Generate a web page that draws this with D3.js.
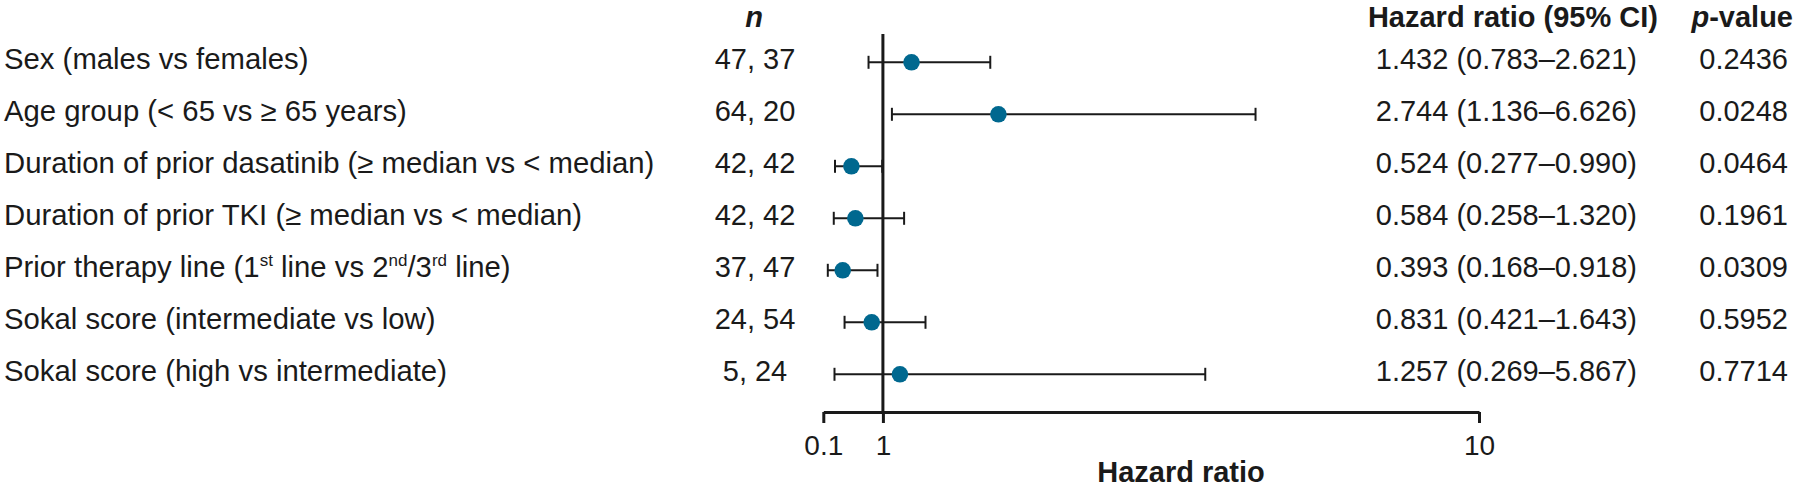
<!DOCTYPE html>
<html>
<head>
<meta charset="utf-8">
<script src="https://cdn.jsdelivr.net/npm/d3@7"></script>
<style>
  html, body { margin: 0; padding: 0; background: #fff; }
  svg { display: block; }
  text { font-family: "Liberation Sans", Arial, Helvetica, sans-serif; fill: #1a1a1a; }
</style>
</head>
<body>
<svg id="chart" width="1800" height="487"></svg>
<script>
// ---- Data ----
const categories = [
  "Sex (males vs females)",
  "Age group (< 65 vs \u2265 65 years)",
  "Duration of prior dasatinib (\u2265 median vs < median)",
  "Duration of prior TKI (\u2265 median vs < median)",
  "Prior therapy line (1st line vs 2nd/3rd line)",
  "Sokal score (intermediate vs low)",
  "Sokal score (high vs intermediate)"
];
const nLabels = ["47, 37", "64, 20", "42, 42", "42, 42", "37, 47", "24, 54", "5, 24"];
const hr    = [1.432, 2.744, 0.524, 0.584, 0.393, 0.831, 1.257];
const ciLow = [0.783, 1.136, 0.277, 0.258, 0.168, 0.421, 0.269];
const ciHigh= [2.621, 6.626, 0.990, 1.320, 0.918, 1.643, 5.867];
const pValues = ["0.2436", "0.0248", "0.0464", "0.1961", "0.0309", "0.5952", "0.7714"];
const xTicks = [0.1, 1, 10];
const xTickLabels = ["0.1", "1", "10"];

const rows = categories.map((c, i) => ({
  cat: c, n: nLabels[i], hr: hr[i], lo: ciLow[i], hi: ciHigh[i], p: pValues[i]
}));

// ---- Layout ----
const svg = d3.select("#chart");
const x = d3.scaleLinear().domain([0.1, 10]).range([823.3, 1479]);
const y = d3.scalePoint().domain(categories).range([62.3, 374.3]);
const axisY = 412;
const fs = 29;
const baseOff = 6.8;
const teal = "#00688f";
const ink = "#1a1a1a";

// Headers
svg.append("text").attr("x", 754).attr("y", 26.5).attr("text-anchor", "middle")
  .attr("font-size", fs).attr("font-weight", "bold").attr("font-style", "italic").text("n");
svg.append("text").attr("x", 1658).attr("y", 26.5).attr("text-anchor", "end")
  .attr("font-size", fs).attr("font-weight", "bold").text("Hazard ratio (95% CI)");
const ph = svg.append("text").attr("x", 1793).attr("y", 26.5).attr("text-anchor", "end")
  .attr("font-size", fs).attr("font-weight", "bold");
ph.append("tspan").attr("font-style", "italic").text("p");
ph.append("tspan").text("-value");

// Row labels (with superscripts)
rows.forEach(r => {
  const t = svg.append("text").attr("x", 4).attr("y", y(r.cat) + baseOff).attr("font-size", 29.3);
  const parts = r.cat.split(/(\d)(st|nd|rd)(?=[\s\/])/);
  let pendingDy = 0;
  for (let k = 0; k < parts.length; k++) {
    if (!parts[k]) continue;
    if (k % 3 === 2) {
      t.append("tspan").attr("font-size", 17).attr("dy", -11).text(parts[k]);
      pendingDy = 11;
    } else {
      const sp = t.append("tspan").text(parts[k]);
      if (pendingDy) { sp.attr("dy", pendingDy); pendingDy = 0; }
    }
  }
});

// n column
svg.selectAll("text.n").data(rows).join("text").attr("class", "n")
  .attr("x", 755).attr("y", d => y(d.cat) + baseOff)
  .attr("text-anchor", "middle").attr("font-size", fs).text(d => d.n);

// HR column
svg.selectAll("text.hr").data(rows).join("text").attr("class", "hr")
  .attr("x", 1637).attr("y", d => y(d.cat) + baseOff)
  .attr("text-anchor", "end").attr("font-size", fs)
  .text(d => `${d.hr.toFixed(3)} (${d.lo.toFixed(3)}\u2013${d.hi.toFixed(3)})`);

// p column
svg.selectAll("text.p").data(rows).join("text").attr("class", "p")
  .attr("x", 1788).attr("y", d => y(d.cat) + baseOff)
  .attr("text-anchor", "end").attr("font-size", fs).text(d => d.p);

// Reference line at HR = 1
svg.append("line").attr("x1", x(1)).attr("x2", x(1)).attr("y1", 34).attr("y2", axisY)
  .attr("stroke", ink).attr("stroke-width", 3);

// CI lines
const g = svg.append("g");
g.selectAll("line.ci").data(rows).join("line").attr("class", "ci")
  .attr("x1", d => x(d.lo)).attr("x2", d => x(d.hi))
  .attr("y1", d => y(d.cat)).attr("y2", d => y(d.cat))
  .attr("stroke", ink).attr("stroke-width", 2);
["lo", "hi"].forEach(k => {
  g.selectAll("line.cap" + k).data(rows).join("line").attr("class", "cap" + k)
    .attr("x1", d => x(d[k])).attr("x2", d => x(d[k]))
    .attr("y1", d => y(d.cat) - 6.5).attr("y2", d => y(d.cat) + 6.5)
    .attr("stroke", ink).attr("stroke-width", 2);
});
g.selectAll("circle").data(rows).join("circle")
  .attr("cx", d => x(d.hr)).attr("cy", d => y(d.cat)).attr("r", 8.3)
  .attr("fill", teal);

// X axis
const axis = d3.axisBottom(x).tickValues(xTicks).tickFormat((d, i) => xTickLabels[i])
  .tickSize(11).tickSizeOuter(0).tickPadding(12);
const ax = svg.append("g").attr("transform", `translate(0,${axisY})`).call(axis);
ax.attr("font-size", 28).attr("font-family", "Liberation Sans, Arial, sans-serif");
ax.select(".domain").attr("stroke", ink).attr("stroke-width", 3);
ax.selectAll(".tick line").attr("stroke", ink).attr("stroke-width", 3);
ax.selectAll(".tick text").style("font-size", "28px").attr("fill", ink);

svg.append("text").attr("x", 1181).attr("y", 482).attr("text-anchor", "middle")
  .attr("font-size", fs).attr("font-weight", "bold").text("Hazard ratio");
</script>
</body>
</html>
